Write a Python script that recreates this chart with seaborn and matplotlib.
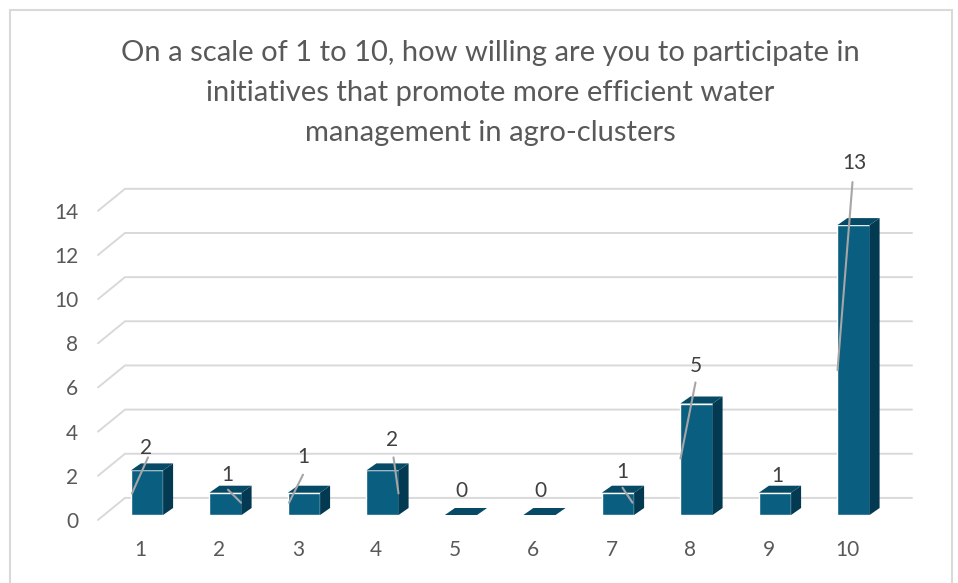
import matplotlib
matplotlib.use('Agg')
import numpy as np
import matplotlib.pyplot as plt
import matplotlib.transforms as mtransforms
from matplotlib.patches import Polygon, Rectangle
import seaborn as sns

# data
scores = ['1', '2', '3', '4', '5', '6', '7', '8', '9', '10']
responses = [2, 1, 1, 2, 0, 0, 1, 5, 1, 13]
y_ticks = [0, 2, 4, 6, 8, 10, 12, 14]
title_lines = [
    'On a scale of 1 to 10, how willing are you to participate in',
    'initiatives that promote more efficient water',
    'management in agro-clusters',
]

# label / leader line offsets in pixels from the front top centre of each bar
label_offsets = [(-1, 22), (2, 18), (-1, 36), (10, 30), (0, 24),
                 (1, 24), (4, 21), (-1, 38), (2, 17), (1, 62)]
leader_lines = {
    0: ((1, 13), (-15, -23)),
    1: ((2.5, 3), (15.5, -10)),
    2: ((-1, 18), (-15, -10)),
    3: ((11, 13), (16, -23)),
    6: ((4.5, 5), (14.5, -10)),
    7: ((-1, 21), (-16, -55)),
    9: ((-1, 43), (-16, -145)),
}

FRONT = '#0a5e7f'
TOP = '#064a66'
SIDE = '#033a51'
GRID = '#d9d9d9'
TEXT = '#595959'

sns.set_style('white')
plt.rcParams['font.family'] = ['Lato', 'DejaVu Sans']

W, H = 958, 583
fig = plt.figure(figsize=(W / 100, H / 100), dpi=100)

# pixel geometry of the plot (front plane of the bars)
UX, UY = 78.5, 22.3       # pixels per category / per unit
X0, Y0 = 147, 515         # pixel of category 0, value 0
ax_l, ax_r, ax_t, ax_b = 90, 930, 150, 530
ax = fig.add_axes([ax_l / W, (H - ax_b) / H, (ax_r - ax_l) / W, (ax_b - ax_t) / H])

sns.barplot(x=scores, y=responses, ax=ax, width=0.41, color=FRONT,
            saturation=1, zorder=2)
ax.set_xlim((ax_l - X0) / UX, (ax_r - X0) / UX)
ax.set_ylim((Y0 - ax_b) / UY, (Y0 - ax_t) / UY)

# 3d depth of the bars
dx, dy = 10 / UX, 7 / UY
for p in ax.patches[:len(responses)]:
    x0, w, h = p.get_x(), p.get_width(), p.get_height()
    x1 = x0 + w
    side = Polygon([(x1, 0), (x1 + dx, dy), (x1 + dx, h + dy), (x1, h)],
                   closed=True, facecolor=SIDE, edgecolor='none', zorder=2)
    top = Polygon([(x0, h), (x0 + dx, h + dy), (x1 + dx, h + dy), (x1, h)],
                  closed=True, facecolor=TOP, edgecolor='none', zorder=2)
    ax.add_patch(side)
    ax.add_patch(top)

# back wall gridlines with the perspective step on the left
xf, xb, xe = (98 - X0) / UX, (125 - X0) / UX, (912 - X0) / UX
front_y = [v * 0.99 - 0.22 for v in y_ticks]
for yf in front_y:
    yb = yf + 22 / UY
    ax.plot([xf, xb, xe], [yf, yb, yb], color=GRID, lw=1.4, zorder=0,
            clip_on=False, solid_joinstyle='miter')

ax.set_yticks(front_y, labels=[str(v) for v in y_ticks])
ax.set_xticks(np.arange(len(scores)) - 0.08, labels=scores)
ax.tick_params(axis='both', length=0, labelsize=15, colors=TEXT)
ax.tick_params(axis='y', pad=8.6)
ax.tick_params(axis='x', pad=7.5)
ax.set_xlabel('')
ax.set_ylabel('')
for s in ax.spines.values():
    s.set_visible(False)
ax.set_facecolor('none')

# data labels and leader lines
for i, (p, v) in enumerate(zip(ax.patches[:len(responses)], responses)):
    cx = p.get_x() + p.get_width() / 2
    top = p.get_height()
    lx, ly = label_offsets[i]
    tr = mtransforms.offset_copy(ax.transData, fig=fig, x=lx, y=ly, units='dots')
    ax.text(cx, top, str(v), transform=tr, ha='center', va='center',
            fontsize=15, color='#404040', zorder=4)
    if i in leader_lines:
        (sx, sy), (ex, ey) = leader_lines[i]
        ax.annotate('', xy=(cx, top),
                    xycoords=mtransforms.offset_copy(ax.transData, fig=fig, x=ex, y=ey, units='dots'),
                    xytext=(cx, top),
                    textcoords=mtransforms.offset_copy(ax.transData, fig=fig, x=sx, y=sy, units='dots'),
                    arrowprops=dict(arrowstyle='-', color='#a6a6a6', lw=1.5,
                                    shrinkA=0, shrinkB=0), zorder=3)

# title
for k, line in enumerate(title_lines):
    fig.text(490 / W, 1 - (53 + 40 * k) / H, line, ha='center', va='center',
             fontsize=21, color=TEXT)

# chart area border
fig.patches.append(Rectangle((10 / W, -0.01), (952 - 10) / W, 1.01 - 10 / H,
                             transform=fig.transFigure, fill=False,
                             edgecolor=GRID, lw=1.5))

fig.savefig('out.png', dpi=100)
